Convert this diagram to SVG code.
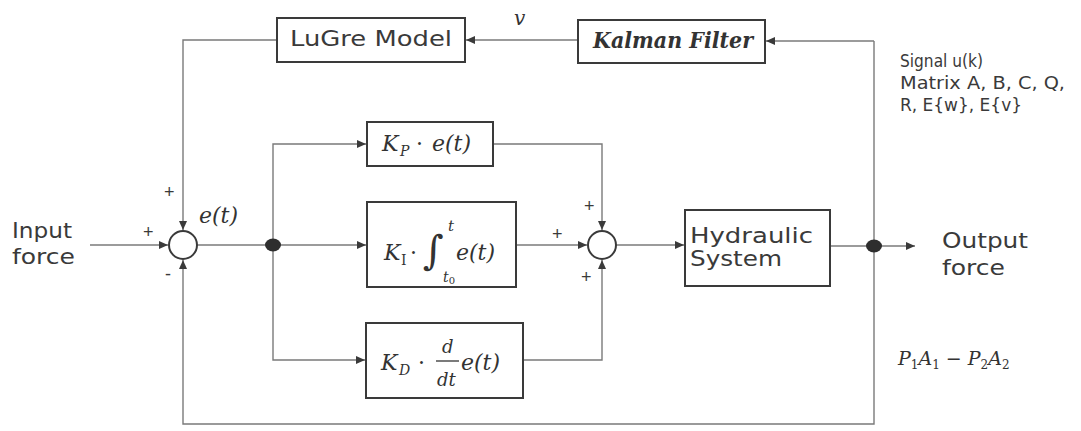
<svg xmlns="http://www.w3.org/2000/svg" width="1081" height="431" viewBox="0 0 1081 431">
<defs>
<style>
.box{fill:#fff;stroke:#3a3a3a;stroke-width:2}
.wire{fill:none;stroke:#7a7a7a;stroke-width:1.4}
.sum{fill:#fff;stroke:#3a3a3a;stroke-width:2}
.lbl{font-family:"DejaVu Sans",sans-serif;fill:#3a3a3a}
.sig{font-family:"DejaVu Sans Condensed","DejaVu Sans",sans-serif;fill:#3a3a3a;font-size:18px}
.math{font-family:"DejaVu Serif",serif;font-style:italic;fill:#333}
.up{font-family:"DejaVu Serif",serif;font-style:normal;fill:#333}
.sign{font-family:"Liberation Sans",sans-serif;fill:#3a3a3a;font-size:18px}
</style>
<marker id="arr" markerUnits="userSpaceOnUse" markerWidth="9" markerHeight="8" refX="9" refY="4" orient="auto">
<path d="M0,0 L9,4 L0,8 z" fill="#3a3a3a"/>
</marker>
</defs>
<rect width="1081" height="431" fill="#fff"/>

<g id="connectors">
<path class="wire" d="M90,245 H168" marker-end="url(#arr)"/>
<path class="wire" d="M874,41 H766" marker-end="url(#arr)"/>
<path class="wire" d="M578,40 H466" marker-end="url(#arr)"/>
<path class="wire" d="M277,40 H183 V230" marker-end="url(#arr)"/>
<path class="wire" d="M197,245 H366" marker-end="url(#arr)"/>
<path class="wire" d="M273,245 V144 H366" marker-end="url(#arr)"/>
<path class="wire" d="M273,245 V360 H365" marker-end="url(#arr)"/>
<path class="wire" d="M493,144 H602 V230" marker-end="url(#arr)"/>
<path class="wire" d="M516,245 H587" marker-end="url(#arr)"/>
<path class="wire" d="M523,360 H602 V260" marker-end="url(#arr)"/>
<path class="wire" d="M616,245 H684" marker-end="url(#arr)"/>
<path class="wire" d="M830,246 H915" marker-end="url(#arr)"/>
<path class="wire" d="M874,41 V424 H183 V260" marker-end="url(#arr)"/>
<ellipse cx="273" cy="245" rx="8" ry="6.5" fill="#2e2e2e"/>
<ellipse cx="874" cy="246" rx="8" ry="6.5" fill="#2e2e2e"/>
</g>

<g id="lugre">
<rect class="box" x="277" y="18" width="188" height="44"/>
<text class="lbl" x="290" y="46" font-size="22" textLength="162" lengthAdjust="spacingAndGlyphs">LuGre Model</text>
</g>

<g id="v-label">
<text class="math" x="514" y="25" font-size="20">v</text>
</g>

<g id="kalman">
<rect class="box" x="578" y="20" width="187" height="43"/>
<text class="math" x="593" y="48" font-size="23" font-weight="bold" textLength="160" lengthAdjust="spacingAndGlyphs">Kalman Filter</text>
</g>

<g id="signal-text">
<text class="sig" x="900" y="67" textLength="83" lengthAdjust="spacingAndGlyphs">Signal u(k)</text>
<text class="sig" x="900" y="89" textLength="165" lengthAdjust="spacingAndGlyphs">Matrix A, B, C, Q,</text>
<text class="sig" x="900" y="111" textLength="122" lengthAdjust="spacingAndGlyphs">R, E{w}, E{v}</text>
</g>

<g id="input">
<text class="lbl" x="12" y="238" font-size="21" textLength="60" lengthAdjust="spacingAndGlyphs">Input</text>
<text class="lbl" x="12" y="264" font-size="21" textLength="63" lengthAdjust="spacingAndGlyphs">force</text>
</g>

<g id="sum1">
<circle class="sum" cx="183" cy="245" r="14"/>
<text class="sign" x="143" y="238">+</text>
<text class="sign" x="164" y="198">+</text>
<text class="sign" x="165" y="280">-</text>
<text class="math" x="199" y="223" font-size="22">e(t)</text>
</g>

<g id="kp">
<rect class="box" x="367" y="122" width="126" height="44"/>
<text class="math" x="382" y="151" font-size="22">K</text>
<text class="math" x="400" y="156" font-size="14">P</text>
<text class="up" x="416" y="151" font-size="22">·</text>
<text class="math" x="432" y="151" font-size="22">e(t)</text>
</g>

<g id="ki">
<rect class="box" x="367" y="202" width="149" height="85"/>
<text class="math" x="384" y="260" font-size="22">K</text>
<text class="up" x="401" y="265" font-size="14">I</text>
<text class="up" x="410" y="260" font-size="22">·</text>
<text class="up" x="423" y="264" font-size="40">∫</text>
<text class="math" x="448" y="231" font-size="15">t</text>
<text class="math" x="443" y="282" font-size="14">t<tspan class="up" font-size="10" dy="2">0</tspan></text>
<text class="math" x="456" y="260" font-size="22">e(t)</text>
</g>

<g id="kd">
<rect class="box" x="366" y="323" width="157" height="75"/>
<text class="math" x="381" y="370" font-size="22">K</text>
<text class="math" x="399" y="375" font-size="14">D</text>
<text class="up" x="418" y="370" font-size="22">·</text>
<text class="math" x="442" y="353" font-size="18">d</text>
<line x1="436" y1="361" x2="459" y2="361" stroke="#333" stroke-width="1.3"/>
<text class="math" x="437" y="386" font-size="18">dt</text>
<text class="math" x="461" y="370" font-size="22">e(t)</text>
</g>

<g id="sum2">
<circle class="sum" cx="602" cy="245" r="14"/>
<text class="sign" x="584" y="212">+</text>
<text class="sign" x="552" y="240">+</text>
<text class="sign" x="581" y="283">+</text>
</g>

<g id="hydraulic">
<rect class="box" x="685" y="210" width="145" height="76"/>
<text class="lbl" x="690" y="243" font-size="21" textLength="123" lengthAdjust="spacingAndGlyphs">Hydraulic</text>
<text class="lbl" x="690" y="266" font-size="21" textLength="92" lengthAdjust="spacingAndGlyphs">System</text>
</g>

<g id="output">
<text class="lbl" x="942" y="248" font-size="21" textLength="86" lengthAdjust="spacingAndGlyphs">Output</text>
<text class="lbl" x="942" y="275" font-size="21" textLength="63" lengthAdjust="spacingAndGlyphs">force</text>
</g>

<g id="p-label">
<text class="math" x="898" y="365" font-size="19">P<tspan class="up" font-size="12" dy="4">1</tspan><tspan dy="-4">A</tspan><tspan class="up" font-size="12" dy="4">1</tspan><tspan class="up" dy="-4"> − </tspan><tspan>P</tspan><tspan class="up" font-size="12" dy="4">2</tspan><tspan dy="-4">A</tspan><tspan class="up" font-size="12" dy="4">2</tspan></text>
</g>
</svg>
